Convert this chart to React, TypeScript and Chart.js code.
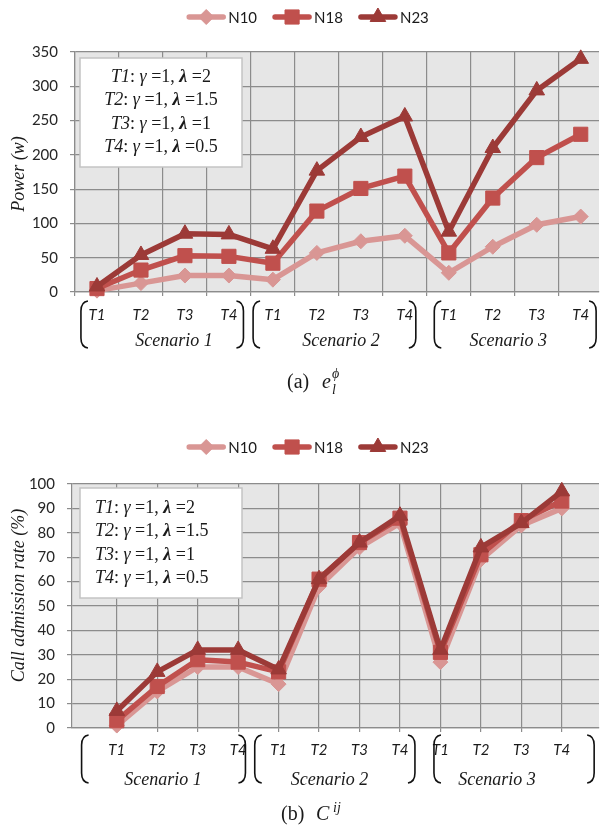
import React, { useEffect, useRef } from 'react';
import { Chart, registerables } from 'chart.js';

Chart.register(...registerables);

// ---------------- data ----------------
const categories = ['T1', 'T2', 'T3', 'T4', 'T1', 'T2', 'T3', 'T4', 'T1', 'T2', 'T3', 'T4'];
const scenarioLabels = ['Scenario 1', 'Scenario 2', 'Scenario 3'];
const seriesNames = ['N10', 'N18', 'N23'];

const powerN10 = [2, 13, 24, 24, 18, 57, 74, 82, 28, 66, 98, 110];
const powerN18 = [5, 32, 53, 52, 42, 118, 151, 169, 57, 137, 196, 230];
const powerN23 = [8, 54, 85, 84, 63, 177, 226, 256, 88, 210, 294, 340];

const carN10 = [1, 15, 25, 25, 18, 58, 74, 84, 27, 69, 83, 90];
const carN18 = [3, 17, 28, 27, 23, 61, 76, 86, 31, 71, 85, 93];
const carN23 = [7, 23, 32, 32, 24, 61, 76, 87, 32, 74, 84, 97];

const powerTicks = [0, 50, 100, 150, 200, 250, 300, 350];
const carTicks = [0, 10, 20, 30, 40, 50, 60, 70, 80, 90, 100];

const paramNames = ['T1', 'T2', 'T3', 'T4'];
const gammaValues = ['1', '1', '1', '1'];
const lambdaValues = ['2', '1.5', '1', '0.5'];

// ---------------- styles ----------------
const COLORS = ['#d99694', '#c0504d', '#9c3a37'];
const MARKERS = ['rectRot', 'rect', 'triangle'];
const RADII = [7.5, 10, 9];
const GRID = '#8c8c8c';
const PLOT_BG = '#e6e6e6';
const TEXT = '#1a1a1a';
const SANS = 'Lato, "Open Sans", sans-serif';
const SERIF = '"Liberation Serif", "DejaVu Serif", "Times New Roman", serif';

type Seg = { t: string; f: string };

function drawRich(ctx: CanvasRenderingContext2D, segs: Seg[], x: number, y: number, align: string) {
  let total = 0;
  for (const s of segs) {
    ctx.font = s.f;
    total += ctx.measureText(s.t).width;
  }
  let cx = align === 'center' ? x - total / 2 : x;
  ctx.textAlign = 'left';
  for (const s of segs) {
    ctx.font = s.f;
    ctx.fillText(s.t, cx, y);
    cx += ctx.measureText(s.t).width;
  }
}

function drawMarker(ctx: CanvasRenderingContext2D, style: string, x: number, y: number, r: number, color: string) {
  ctx.fillStyle = color;
  ctx.strokeStyle = color;
  ctx.lineWidth = 1;
  ctx.beginPath();
  if (style === 'rectRot') {
    ctx.moveTo(x, y - r);
    ctx.lineTo(x + r, y);
    ctx.lineTo(x, y + r);
    ctx.lineTo(x - r, y);
  } else if (style === 'rect') {
    const s = r * Math.SQRT1_2;
    ctx.rect(x - s, y - s, 2 * s, 2 * s);
  } else {
    for (let k = 0; k < 3; k++) {
      const a = (k * 2 * Math.PI) / 3;
      const px = x + Math.sin(a) * r;
      const py = y - Math.cos(a) * r;
      if (k === 0) ctx.moveTo(px, py);
      else ctx.lineTo(px, py);
    }
  }
  ctx.closePath();
  ctx.fill();
  ctx.stroke();
}

function drawBracket(ctx: CanvasRenderingContext2D, x: number, top: number, bottom: number, dir: number) {
  const c = 7 * dir;
  ctx.beginPath();
  ctx.moveTo(x + c, top);
  ctx.quadraticCurveTo(x, top + 1, x, top + 10);
  ctx.lineTo(x, bottom - 10);
  ctx.quadraticCurveTo(x, bottom - 1, x + c, bottom);
  ctx.stroke();
}

interface Panel {
  height: number;
  top: number;
  bottom: number;
  left: number;
  xMin: number;
  xMax: number;
  xGrid: number[];
  yMax: number;
  yTicks: number[];
  series: number[][];
  yTitle: string;
  yTitleY: number;
  legendY: number;
  box: { x: number; y: number; w: number; h: number; align: string; textX: number; lineYs: number[] };
  tLabelY: number;
  scenY: number;
  brTop: number;
  brBottom: number;
  brackets: number[][];
  scenX: number[];
  caption: (ctx: CanvasRenderingContext2D) => void;
}

const panelA: Panel = {
  height: 400,
  top: 52,
  bottom: 292,
  left: 75,
  xMin: -0.5,
  xMax: -0.5 + 535 / 44.9,
  xGrid: [-0.5, 0.5, 1.5, 2.5, 3.5, 4.5, 5.5, 6.5, 7.5, 8.5, 9.5, 10.5],
  yMax: 350,
  yTicks: powerTicks,
  series: [powerN10, powerN18, powerN23],
  yTitle: 'Power (w)',
  yTitleY: 174,
  legendY: 17,
  box: { x: 80, y: 58, w: 162, h: 109, align: 'center', textX: 161, lineYs: [77, 100.5, 124, 147.5] },
  tLabelY: 315,
  scenY: 341.5,
  brTop: 301,
  brBottom: 348,
  brackets: [[-0.365, 3.33], [3.55, 7.25], [7.67, 11.35]],
  scenX: [1.75, 5.55, 9.35],
  caption: (ctx) => {
    ctx.fillStyle = TEXT;
    ctx.textBaseline = 'alphabetic';
    ctx.textAlign = 'left';
    ctx.font = `20px ${SERIF}`;
    ctx.fillText('(a)', 287, 388);
    ctx.font = `italic 20px ${SERIF}`;
    ctx.fillText('e', 322, 388);
    ctx.font = `italic 14px ${SERIF}`;
    ctx.fillText('ϕ', 332, 378);
    ctx.fillText('l', 332, 394);
  },
};

const panelB: Panel = {
  height: 410,
  top: 64,
  bottom: 308,
  left: 72,
  xMin: -1.107,
  xMax: -1.107 + 538 / 41.3,
  xGrid: [0, 1, 2, 3, 4, 5, 6, 7, 8, 9, 10, 11],
  yMax: 100,
  yTicks: carTicks,
  series: [carN10, carN18, carN23],
  yTitle: 'Call admission rate (%)',
  yTitleY: 175.5,
  legendY: 27,
  box: { x: 80, y: 68, w: 162, h: 110, align: 'left', textX: 95, lineYs: [88, 111.5, 135, 158.5] },
  tLabelY: 330.5,
  scenY: 360,
  brTop: 315,
  brBottom: 363,
  brackets: [[-0.87, 3.18], [3.41, 7.37], [7.84, 11.8]],
  scenX: [1.145, 5.26, 9.4],
  caption: (ctx) => {
    ctx.fillStyle = TEXT;
    ctx.textBaseline = 'alphabetic';
    ctx.textAlign = 'left';
    ctx.font = `20px ${SERIF}`;
    ctx.fillText('(b)', 281, 400);
    ctx.font = `italic 20px ${SERIF}`;
    ctx.fillText('C', 316, 400);
    ctx.font = `italic 14px ${SERIF}`;
    ctx.fillText('ij', 333, 392);
  },
};

function decorPlugin(p: Panel) {
  return {
    id: 'decor',
    beforeDraw(chart: any) {
      const { ctx, chartArea: a } = chart;
      ctx.save();
      ctx.fillStyle = '#ffffff';
      ctx.fillRect(0, 0, chart.width, chart.height);
      ctx.fillStyle = PLOT_BG;
      ctx.fillRect(a.left, a.top, a.right - a.left, a.bottom - a.top);
      ctx.restore();
    },
    beforeDatasetsDraw(chart: any) {
      const ctx: CanvasRenderingContext2D = chart.ctx;
      const b = p.box;
      ctx.save();
      ctx.fillStyle = '#ffffff';
      ctx.fillRect(b.x, b.y, b.w, b.h);
      ctx.strokeStyle = '#c4c4c4';
      ctx.lineWidth = 1.5;
      ctx.strokeRect(b.x, b.y, b.w, b.h);
      ctx.fillStyle = TEXT;
      ctx.textBaseline = 'middle';
      paramNames.forEach((n, i) => {
        drawRich(
          ctx,
          [
            { t: n, f: `italic 18px ${SERIF}` },
            { t: ': ', f: `18px ${SERIF}` },
            { t: 'γ', f: `italic 18px ${SERIF}` },
            { t: ` =${gammaValues[i]}, `, f: `18px ${SERIF}` },
            { t: 'λ', f: `italic bold 18px ${SERIF}` },
            { t: ` =${lambdaValues[i]}`, f: `18px ${SERIF}` },
          ],
          b.textX,
          b.lineYs[i],
          b.align
        );
      });
      ctx.restore();
    },
    afterDraw(chart: any) {
      const ctx: CanvasRenderingContext2D = chart.ctx;
      const xs = chart.scales.x;
      ctx.save();

      // legend
      ctx.font = `15px ${SANS}`;
      const tw = seriesNames.map((n) => ctx.measureText(n).width);
      const sw = 38;
      const gapT = 3;
      const gap = 16;
      const total = tw.reduce((s, w) => s + sw + gapT + w, 0) + gap * 2;
      let lx = 308 - total / 2;
      seriesNames.forEach((n, i) => {
        ctx.strokeStyle = COLORS[i];
        ctx.lineWidth = 5.5;
        ctx.lineCap = 'round';
        ctx.beginPath();
        ctx.moveTo(lx + 2, p.legendY);
        ctx.lineTo(lx + sw - 2, p.legendY);
        ctx.stroke();
        ctx.lineCap = 'butt';
        drawMarker(ctx, MARKERS[i], lx + sw / 2, p.legendY, RADII[i], COLORS[i]);
        ctx.fillStyle = TEXT;
        ctx.font = `15px ${SANS}`;
        ctx.textAlign = 'left';
        ctx.textBaseline = 'middle';
        ctx.fillText(n, lx + sw + gapT, p.legendY + 1);
        lx += sw + gapT + tw[i] + gap;
      });

      // category labels
      ctx.fillStyle = TEXT;
      ctx.textAlign = 'center';
      ctx.textBaseline = 'middle';
      ctx.font = `italic 15px ${SANS}`;
      categories.forEach((c, i) => {
        ctx.fillText(c, xs.getPixelForValue(i), p.tLabelY);
      });

      // scenario labels
      ctx.font = `italic 18px ${SERIF}`;
      scenarioLabels.forEach((s, k) => {
        ctx.fillText(s, xs.getPixelForValue(p.scenX[k]), p.scenY);
      });

      // brackets
      ctx.strokeStyle = '#111';
      ctx.lineWidth = 1.6;
      p.brackets.forEach(([l, r]) => {
        drawBracket(ctx, xs.getPixelForValue(l), p.brTop, p.brBottom, 1);
        drawBracket(ctx, xs.getPixelForValue(r), p.brTop, p.brBottom, -1);
      });

      // y title
      ctx.save();
      ctx.translate(19, p.yTitleY);
      ctx.rotate(-Math.PI / 2);
      ctx.font = `italic 18px ${SERIF}`;
      ctx.textAlign = 'center';
      ctx.textBaseline = 'middle';
      ctx.fillText(p.yTitle, 0, 0);
      ctx.restore();

      // caption
      p.caption(ctx);
      ctx.restore();
    },
  };
}

function buildConfig(p: Panel): any {
  const datasets = p.series.map((vals, i) => ({
    label: seriesNames[i],
    data: vals.map((v, j) => ({ x: j, y: v })),
    borderColor: COLORS[i],
    backgroundColor: COLORS[i],
    borderWidth: 5.5,
    borderJoinStyle: 'round',
    borderCapStyle: 'round',
    pointStyle: MARKERS[i],
    pointRadius: RADII[i],
    pointBackgroundColor: COLORS[i],
    pointBorderColor: COLORS[i],
    pointBorderWidth: 1,
    tension: 0,
    fill: false,
    clip: false,
    order: 2 - i,
  }));
  return {
    type: 'line',
    data: { datasets },
    options: {
      animation: false,
      responsive: false,
      maintainAspectRatio: false,
      devicePixelRatio: 1,
      events: [],
      layout: { padding: { top: p.top, left: 0, right: 0, bottom: 0 } },
      plugins: { legend: { display: false }, tooltip: { enabled: false }, title: { display: false } },
      scales: {
        x: {
          type: 'linear',
          min: p.xMin,
          max: p.xMax,
          afterBuildTicks: (s: any) => {
            s.ticks = p.xGrid.map((v) => ({ value: v }));
          },
          afterFit: (s: any) => {
            s.height = p.height - p.bottom;
          },
          ticks: { display: false },
          grid: { color: GRID, lineWidth: 1.2, drawTicks: true, tickLength: 4 },
          border: { color: GRID, width: 1.2 },
        },
        y: {
          type: 'linear',
          min: 0,
          max: p.yMax,
          afterBuildTicks: (s: any) => {
            s.ticks = p.yTicks.map((v) => ({ value: v }));
          },
          afterFit: (s: any) => {
            s.width = p.left;
          },
          ticks: { font: { family: SANS, size: 15 }, color: '#262626', padding: 12, autoSkip: false },
          grid: { color: GRID, lineWidth: 1.2, drawTicks: true, tickLength: 5 },
          border: { color: GRID, width: 1.2 },
        },
      },
    },
    plugins: [decorPlugin(p)],
  };
}

function PanelChart({ panel, top }: { panel: Panel; top: number }) {
  const ref = useRef<HTMLCanvasElement>(null);
  useEffect(() => {
    if (!ref.current) return;
    const chart = new Chart(ref.current, buildConfig(panel));
    return () => chart.destroy();
  }, [panel]);
  return (
    <canvas
      ref={ref}
      width={610}
      height={panel.height}
      style={{ position: 'absolute', left: 0, top, width: 610, height: panel.height, display: 'block' }}
    />
  );
}

export default function App() {
  return (
    <div
      style={{
        position: 'absolute',
        left: 0,
        top: 0,
        width: 610,
        height: 830,
        overflow: 'hidden',
        background: '#ffffff',
      }}
    >
      <PanelChart panel={panelA} top={0} />
      <PanelChart panel={panelB} top={420} />
    </div>
  );
}
